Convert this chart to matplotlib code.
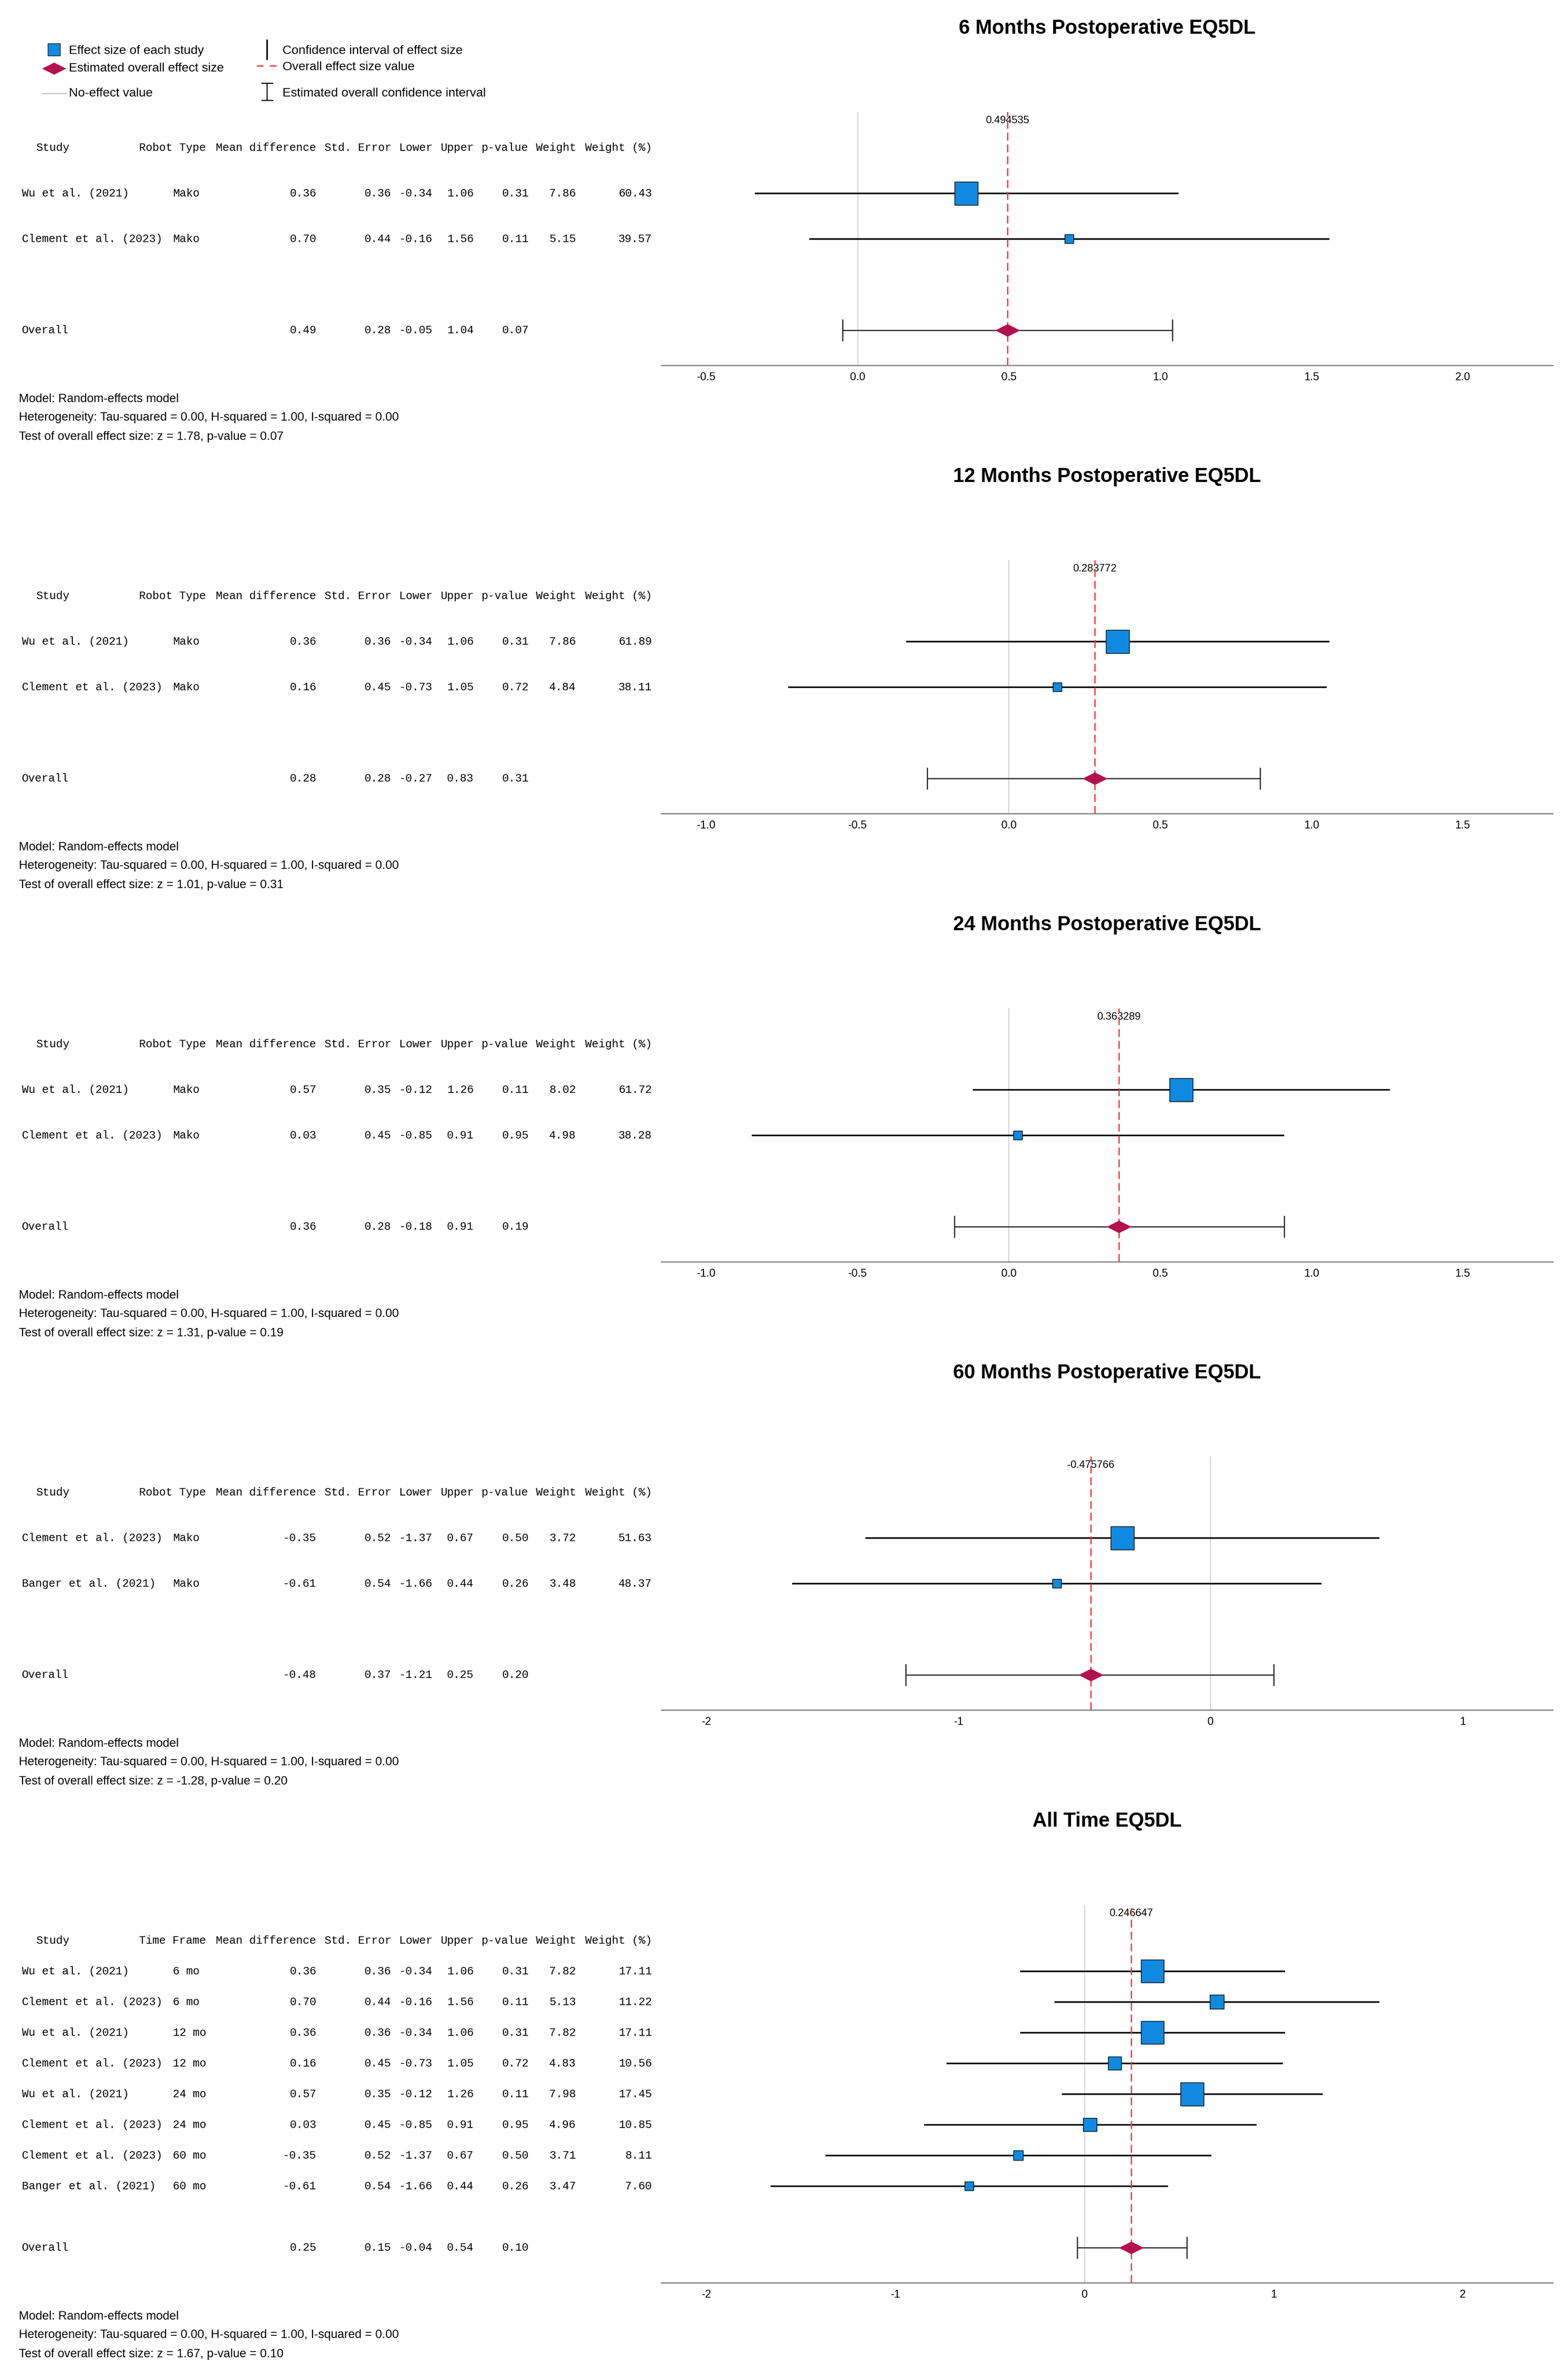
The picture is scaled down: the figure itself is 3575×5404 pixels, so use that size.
import matplotlib
matplotlib.use("Agg")
import matplotlib.pyplot as plt
from matplotlib import font_manager
from matplotlib.path import Path
from matplotlib.transforms import blended_transform_factory

plt.rcParams['axes.unicode_minus'] = False

W, H = 3575, 5404
DPI = 100
PT = 72 / DPI  # points per pixel

# ---------------- data ----------------
titles = ["6 Months Postoperative EQ5DL", "12 Months Postoperative EQ5DL",
          "24 Months Postoperative EQ5DL", "60 Months Postoperative EQ5DL",
          "All Time EQ5DL"]

# 6 months
m6_study = ["Wu et al. (2021)", "Clement et al. (2023)"]
m6_type = ["Mako", "Mako"]
m6_md = [0.36, 0.70]
m6_se = [0.36, 0.44]
m6_lo = [-0.34, -0.16]
m6_hi = [1.06, 1.56]
m6_p = [0.31, 0.11]
m6_w = [7.86, 5.15]
m6_wpct = [60.43, 39.57]
m6_overall = [0.49, 0.28, -0.05, 1.04, 0.07]   # md, se, lower, upper, p
m6_est = 0.494535
m6_test = [1.78, 0.07]                          # z, p
m6_ticks = ["-0.5", "0.0", "0.5", "1.0", "1.5", "2.0"]

# 12 months
m12_study = ["Wu et al. (2021)", "Clement et al. (2023)"]
m12_type = ["Mako", "Mako"]
m12_md = [0.36, 0.16]
m12_se = [0.36, 0.45]
m12_lo = [-0.34, -0.73]
m12_hi = [1.06, 1.05]
m12_p = [0.31, 0.72]
m12_w = [7.86, 4.84]
m12_wpct = [61.89, 38.11]
m12_overall = [0.28, 0.28, -0.27, 0.83, 0.31]
m12_est = 0.283772
m12_test = [1.01, 0.31]
m12_ticks = ["-1.0", "-0.5", "0.0", "0.5", "1.0", "1.5"]

# 24 months
m24_study = ["Wu et al. (2021)", "Clement et al. (2023)"]
m24_type = ["Mako", "Mako"]
m24_md = [0.57, 0.03]
m24_se = [0.35, 0.45]
m24_lo = [-0.12, -0.85]
m24_hi = [1.26, 0.91]
m24_p = [0.11, 0.95]
m24_w = [8.02, 4.98]
m24_wpct = [61.72, 38.28]
m24_overall = [0.36, 0.28, -0.18, 0.91, 0.19]
m24_est = 0.363289
m24_test = [1.31, 0.19]
m24_ticks = ["-1.0", "-0.5", "0.0", "0.5", "1.0", "1.5"]

# 60 months
m60_study = ["Clement et al. (2023)", "Banger et al. (2021)"]
m60_type = ["Mako", "Mako"]
m60_md = [-0.35, -0.61]
m60_se = [0.52, 0.54]
m60_lo = [-1.37, -1.66]
m60_hi = [0.67, 0.44]
m60_p = [0.50, 0.26]
m60_w = [3.72, 3.48]
m60_wpct = [51.63, 48.37]
m60_overall = [-0.48, 0.37, -1.21, 0.25, 0.20]
m60_est = -0.475766
m60_test = [-1.28, 0.20]
m60_ticks = ["-2", "-1", "0", "1"]

# all time
all_study = ["Wu et al. (2021)", "Clement et al. (2023)", "Wu et al. (2021)",
             "Clement et al. (2023)", "Wu et al. (2021)", "Clement et al. (2023)",
             "Clement et al. (2023)", "Banger et al. (2021)"]
all_frame = ["6 mo", "6 mo", "12 mo", "12 mo", "24 mo", "24 mo", "60 mo", "60 mo"]
all_md = [0.36, 0.70, 0.36, 0.16, 0.57, 0.03, -0.35, -0.61]
all_se = [0.36, 0.44, 0.36, 0.45, 0.35, 0.45, 0.52, 0.54]
all_lo = [-0.34, -0.16, -0.34, -0.73, -0.12, -0.85, -1.37, -1.66]
all_hi = [1.06, 1.56, 1.06, 1.05, 1.26, 0.91, 0.67, 0.44]
all_p = [0.31, 0.11, 0.31, 0.72, 0.11, 0.95, 0.50, 0.26]
all_w = [7.82, 5.13, 7.82, 4.83, 7.98, 4.96, 3.71, 3.47]
all_wpct = [17.11, 11.22, 17.11, 10.56, 17.45, 10.85, 8.11, 7.60]
all_overall = [0.25, 0.15, -0.04, 0.54, 0.10]
all_est = 0.246647
all_test = [1.67, 0.10]
all_ticks = ["-2", "-1", "0", "1", "2"]

panels = [
    dict(col2="Robot Type", study=m6_study, col2v=m6_type, md=m6_md, se=m6_se, lo=m6_lo, hi=m6_hi,
         p=m6_p, w=m6_w, wpct=m6_wpct, overall=m6_overall, est=m6_est, test=m6_test, ticks=m6_ticks),
    dict(col2="Robot Type", study=m12_study, col2v=m12_type, md=m12_md, se=m12_se, lo=m12_lo, hi=m12_hi,
         p=m12_p, w=m12_w, wpct=m12_wpct, overall=m12_overall, est=m12_est, test=m12_test, ticks=m12_ticks),
    dict(col2="Robot Type", study=m24_study, col2v=m24_type, md=m24_md, se=m24_se, lo=m24_lo, hi=m24_hi,
         p=m24_p, w=m24_w, wpct=m24_wpct, overall=m24_overall, est=m24_est, test=m24_test, ticks=m24_ticks),
    dict(col2="Robot Type", study=m60_study, col2v=m60_type, md=m60_md, se=m60_se, lo=m60_lo, hi=m60_hi,
         p=m60_p, w=m60_w, wpct=m60_wpct, overall=m60_overall, est=m60_est, test=m60_test, ticks=m60_ticks),
    dict(col2="Time Frame", study=all_study, col2v=all_frame, md=all_md, se=all_se, lo=all_lo, hi=all_hi,
         p=all_p, w=all_w, wpct=all_wpct, overall=all_overall, est=all_est, test=all_test, ticks=all_ticks),
]

# ---------------- styling ----------------
def pick_font(names):
    for n in names:
        try:
            font_manager.findfont(n, fallback_to_default=False)
            return n
        except ValueError:
            pass
    return None

NARROW = pick_font(["Liberation Sans Narrow", "Arial Narrow"])
if NARROW is None:
    NARROW, NSCALE = "Liberation Sans", 0.82
else:
    NSCALE = 1.0
MONO = "Liberation Mono"

BLUE = "#0f8ae0"
CRIMSON = "#b3124f"
RED = "#ff3838"
ZERO = "#cccccc"

def sans(size, **kw):
    return dict(family=NARROW, fontsize=size * NSCALE, **kw)

diamond = Path([(-1, 0), (0, 0.5), (1, 0), (0, -0.5), (-1, 0)],
               [Path.MOVETO, Path.LINETO, Path.LINETO, Path.LINETO, Path.CLOSEPOLY])

fig = plt.figure(figsize=(W / DPI, H / DPI), dpi=DPI)
canvas = fig.add_axes([0, 0, 1, 1], zorder=-1)
canvas.set_xlim(0, W)
canvas.set_ylim(H, 0)
canvas.axis("off")

# ---------------- legend ----------------
canvas.scatter([123], [113], marker="s", s=(28 * PT) ** 2, c=BLUE, edgecolors="black", linewidths=1.2 * PT)
canvas.scatter([123], [156], marker=diamond, s=(55 * PT) ** 2, c=CRIMSON, linewidths=0)
canvas.plot([96, 150], [213, 213], color=ZERO, lw=3 * PT)
canvas.plot([609, 609], [92, 135], color="black", lw=3.5 * PT)
canvas.plot([585, 637], [150, 150], color=RED, lw=3 * PT, ls=(0, (5, 5)))
canvas.plot([609, 609], [190, 229], color="black", lw=2.5 * PT)
canvas.plot([597, 622], [190, 190], color="black", lw=2.5 * PT)
canvas.plot([597, 622], [229, 229], color="black", lw=2.5 * PT)
leg_items = [("Effect size of each study", 157, 116), ("Estimated overall effect size", 157, 156),
             ("No-effect value", 157, 213), ("Confidence interval of effect size", 644, 116),
             ("Overall effect size value", 644, 153), ("Estimated overall confidence interval", 644, 213)]
for txt, x, y in leg_items:
    canvas.text(x, y, txt, ha="left", va="center", **sans(25))

# ---------------- panels ----------------
AX_L, AX_R = 1508, 3540
head_cols = [("Study", 82, "left"), (None, 317, "left"), ("Mean difference", 721, "right"),
             ("Std. Error", 892, "right"), ("Lower", 986, "right"), ("Upper", 1080, "right"),
             ("p-value", 1205, "right"), ("Weight", 1313, "right"), ("Weight (%)", 1486, "right")]
num_x = [721, 892, 986, 1080, 1205, 1313, 1486]
MONO_SIZE = 18.4

for k, pn in enumerate(panels):
    n = len(pn["study"])
    sp = 104 if n <= 2 else 70
    title_y = 65 + 1022 * k
    head_y = title_y + 272
    over_y = head_y + sp * (n + 2)
    top_px = head_y - 82
    bot_px = over_y + 80

    ax = fig.add_axes([AX_L / W, 1 - bot_px / H, (AX_R - AX_L) / W, (bot_px - top_px) / H])
    ax.set_facecolor("none")
    ticks = [float(t) for t in pn["ticks"]]
    span = ticks[-1] - ticks[0]
    ax.set_xlim(ticks[0] - 0.0597 * span, ticks[-1] + 0.119 * span)
    ax.set_ylim(n + 1 + 80 / sp, -1 - 82 / sp)
    ax.set_xticks(ticks)
    ax.set_xticklabels(pn["ticks"], **sans(22))
    ax.tick_params(axis="x", length=0, pad=11)
    ax.set_yticks([])
    for s in ("left", "right", "top"):
        ax.spines[s].set_visible(False)
    ax.spines["bottom"].set_color("#8c8c8c")
    ax.spines["bottom"].set_linewidth(3 * PT)

    rows = list(range(n))
    ax.axvline(0, color=ZERO, lw=2 * PT, zorder=1)
    est = pn["est"]
    ax.axvline(est, color=RED, lw=3 * PT, ls=(0, (6, 3)), zorder=4)
    ax.text(est, -1 - 62 / sp, f"{est:.6f}", ha="center", va="center", **sans(21))

    ax.hlines(rows, pn["lo"], pn["hi"], color="black", lw=3.5 * PT, zorder=2)
    wmin, wmax = min(pn["w"]), max(pn["w"])
    sides = [20 + 33 * (w - wmin) / (wmax - wmin) for w in pn["w"]]
    ax.scatter(pn["md"], rows, marker="s", s=[(s_ * PT) ** 2 for s_ in sides], c=BLUE,
               edgecolors="black", linewidths=1.5 * PT, zorder=3)

    o_md, o_se, o_lo, o_hi, o_p = pn["overall"]
    ax.errorbar([est], [n + 1], xerr=[[est - o_lo], [o_hi - est]], fmt="none", ecolor="#222222",
                elinewidth=2.6 * PT, capsize=25 * PT, capthick=2.6 * PT, zorder=2)
    ax.scatter([est], [n + 1], marker=diamond, s=(57 * PT) ** 2, c=CRIMSON, linewidths=0, zorder=5)

    # title
    canvas.text((AX_L + AX_R) / 2, title_y, titles[k], ha="center", va="center",
                **sans(40, fontweight="bold"))

    # table
    tr = blended_transform_factory(canvas.transData, ax.transData)
    for (txt, x, ha) in head_cols:
        txt = pn["col2"] if txt is None else txt
        ax.text(x, -1, txt, transform=tr, ha=ha, va="center", family=MONO, fontsize=MONO_SIZE)
    for i in range(n):
        ax.text(50, i, pn["study"][i], transform=tr, ha="left", va="center", family=MONO, fontsize=MONO_SIZE)
        ax.text(394, i, pn["col2v"][i], transform=tr, ha="left", va="center", family=MONO, fontsize=MONO_SIZE)
        vals = [pn["md"][i], pn["se"][i], pn["lo"][i], pn["hi"][i], pn["p"][i], pn["w"][i], pn["wpct"][i]]
        for v, x in zip(vals, num_x):
            ax.text(x, i, f"{v:.2f}", transform=tr, ha="right", va="center", family=MONO, fontsize=MONO_SIZE)
    ax.text(50, n + 1, "Overall", transform=tr, ha="left", va="center", family=MONO, fontsize=MONO_SIZE)
    for v, x in zip(pn["overall"], num_x[:5]):
        ax.text(x, n + 1, f"{v:.2f}", transform=tr, ha="right", va="center", family=MONO, fontsize=MONO_SIZE)

    # footnotes
    z, pz = pn["test"]
    notes = ["Model: Random-effects model",
             "Heterogeneity: Tau-squared = 0.00, H-squared = 1.00, I-squared = 0.00",
             f"Test of overall effect size: z = {z:.2f}, p-value = {pz:.2f}"]
    for txt, dy in zip(notes, [77, 119, 163]):
        canvas.text(43, bot_px + dy, txt, ha="left", va="center", **sans(24))

fig.savefig("out.png", dpi=DPI, facecolor="white")
